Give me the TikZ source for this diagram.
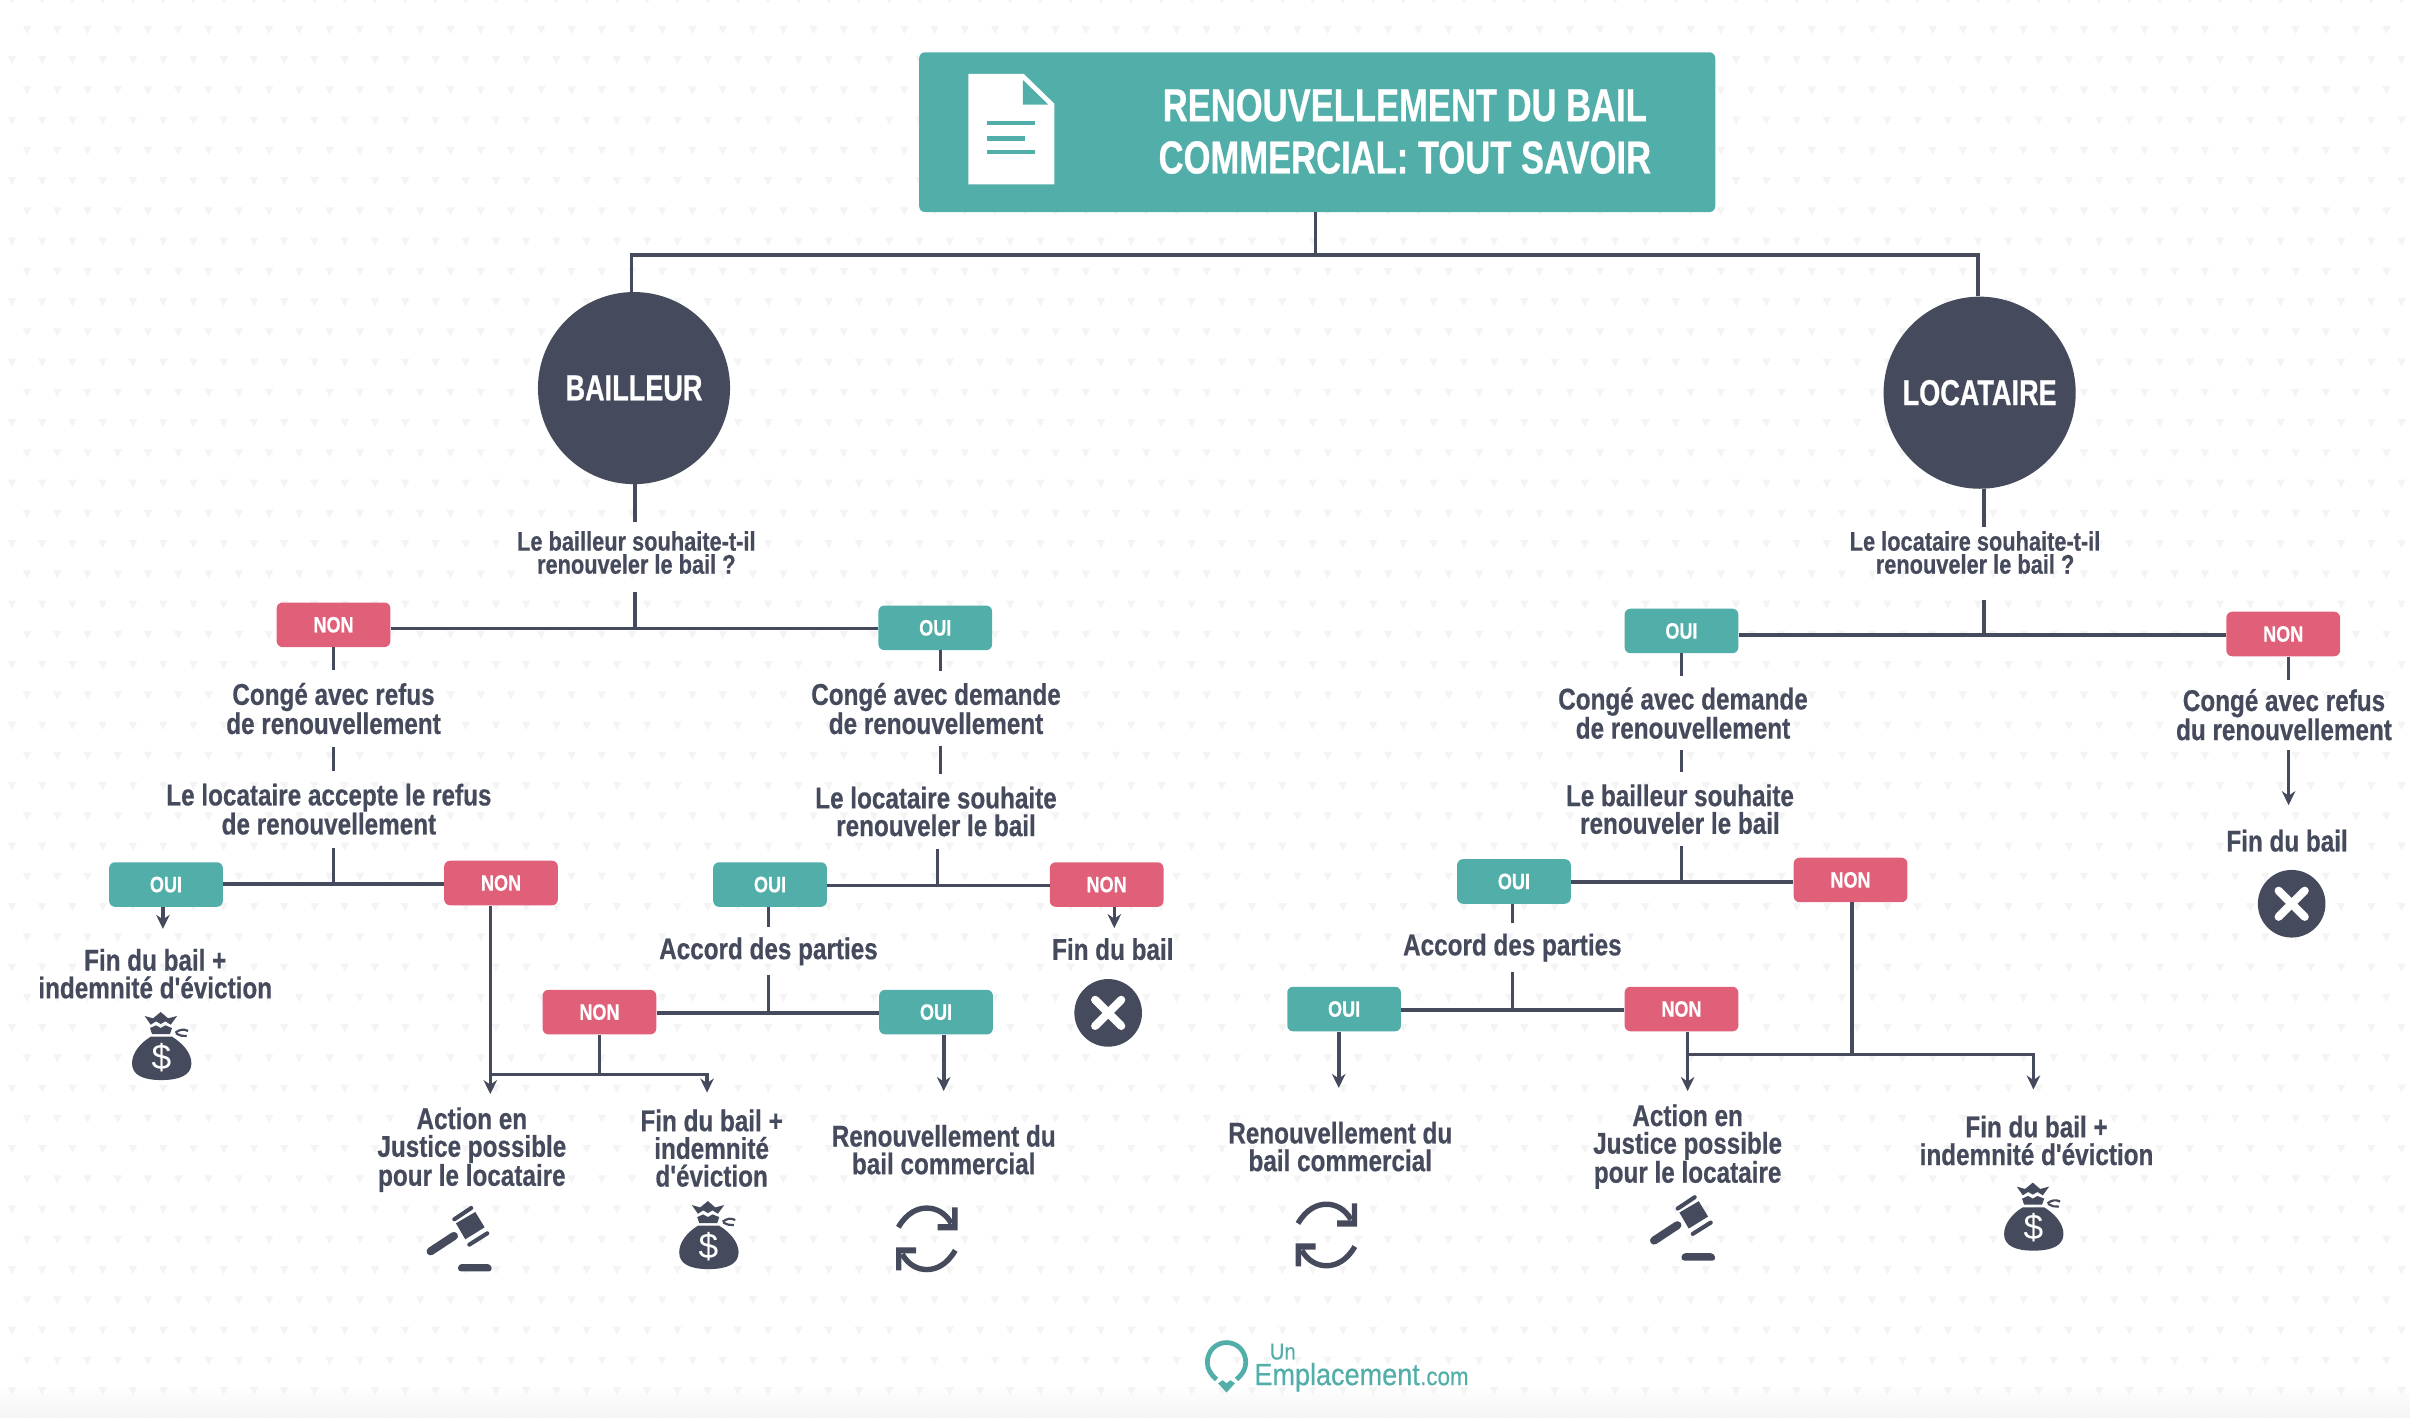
\documentclass[tikz,border=0pt]{standalone}
\usepackage{fontspec}
\setmainfont{Liberation Sans}
\newfontfamily\cond[FakeStretch=0.81,FakeBold=0.5]{Liberation Sans}
\newfontfamily\condt[FakeStretch=0.75,FakeBold=0.6]{Liberation Sans}
\newfontfamily\logofont[FakeStretch=0.88,FakeBold=0.5]{Liberation Sans}
\usetikzlibrary{arrows.meta}
\newdimen\pxu \pxu=1.4226pt
\definecolor{teal}{HTML}{52AEA9}
\definecolor{rose}{HTML}{E0607A}
\definecolor{ink}{HTML}{454A5C}
\definecolor{tri}{HTML}{F4F4F4}
\newcommand{\fsz}[2]{\fontsize{#1\pxu}{#2\pxu}\selectfont}
\tikzset{
 x=0.05cm,y=-0.05cm,
 link/.style={draw=ink,line width=3.3pt},
 arrowlink/.style={link,-{Stealth[length=13pt,width=12.5pt]}},
 tagbox/.style={rounded corners=5.5pt,minimum width=74\pxu,minimum height=29\pxu,inner sep=0pt,text=white,font=\cond\bfseries\fsz{14.5}{15}},
 oui/.style={tagbox,fill=teal},
 non/.style={tagbox,fill=rose},
 lab/.style={align=center,text=ink,inner sep=0pt,font=\cond\bfseries\fsz{19.5}{18}},
 ask/.style={align=center,text=ink,inner sep=0pt,font=\cond\bfseries\fsz{17.5}{15}},
 actor/.style={circle,fill=ink,minimum size=125\pxu,inner sep=0pt,text=white,font=\condt\bfseries\fsz{23.5}{24}},
 stopmark/.style={circle,fill=ink,minimum size=44\pxu,inner sep=0pt},
 money/.pic={
  \begin{scope}[scale=0.217,shift={(-150,-140)}]
   \fill[ink] (118,110) .. controls (85,130) and (62,160) .. (62,190) .. controls (62,225) and (95,240) .. (150,240) .. controls (205,240) and (240,225) .. (240,190) .. controls (240,160) and (215,130) .. (182,110) -- cycle;
   \fill[ink] (100,48) -- (125,55) -- (148,36) -- (170,55) -- (197,48) -- (178,74) -- (162,64) -- (148,72) -- (134,64) -- (118,74) -- cycle;
   \fill[ink] (116,84) -- (134,76) -- (148,84) -- (162,76) -- (182,84) -- (176,102) -- (122,102) -- cycle;
   \draw[ink,line width=2pt] (192,98) .. controls (205,88) and (218,86) .. (230,93);
   \draw[ink,line width=2pt] (194,100) .. controls (205,106) and (215,110) .. (226,108);
  \end{scope}
  \node[text=white,inner sep=0pt,font=\fsz{23}{24}] (-sign) at (0,7) {\$};
 },
 gavel/.pic={
  \begin{scope}[scale=0.217,shift={(-165,-135)}]
   \fill[ink] (138,100) -- (196,66) -- (224,112) -- (166,148) -- cycle;
   \draw[ink,line width=3.8pt,line cap=round] (133,88) -- (184,54);
   \draw[ink,line width=3.8pt,line cap=round] (178,164) -- (232,130);
   \draw[ink,line width=7.5pt,line cap=round] (62,184) -- (132,138);
   \fill[ink,rounded corners=3pt] (143,244) -- (146,222) -- (242,222) -- (247,244) -- cycle;
  \end{scope}
 },
 renew/.pic={
  \foreach \r in {0,180}{
   \begin{scope}[rotate=\r]
    \draw[ink,line width=5pt] (-18.5,-7.5) .. controls (-13,-17) and (-6,-20) .. (0,-20) .. controls (6,-20) and (12,-17) .. (16,-10);
    \fill[ink] (20,-20.5) -- (20,-5.5) -- (7,-5.5) -- (7,-9.5) -- (16.5,-9.5) -- (16.5,-20.5) -- cycle;
   \end{scope}
  }
 },
 cross/.style={draw=white,line width=7.5pt,line cap=round}
}
\begin{document}
\begin{tikzpicture}
\useasboundingbox (0,0) rectangle (1568,922);
\fill[white] (0,0) rectangle (1568,922);
\shade[top color=white,bottom color=black!4] (0,901) rectangle (1568,922);
\foreach \k in {0,2,...,46}{
 \fill[tri] \foreach \j in {0,...,79}{
  ({17.6+19.68*\j-2.7},{19.5+19.68*\k-2.6}) -- ++(5.4,0) -- ++(-2.7,5.2) -- cycle };
}
\foreach \k in {-1,1,...,45}{
 \fill[tri] \foreach \j in {0,...,79}{
  ({7.8+19.68*\j-2.7},{19.5+19.68*\k-2.6}) -- ++(5.4,0) -- ++(-2.7,5.2) -- cycle };
}

% title
\node[rounded corners=5.5pt,fill=teal,minimum width=518\pxu,minimum height=104\pxu,inner sep=0pt] (title) at (857,86) {};
\node[align=center,text=white,inner sep=0pt,font=\condt\bfseries\fsz{30}{34}] (titletext) at (914,85.5) {RENOUVELLEMENT DU BAIL\\COMMERCIAL: TOUT SAVOIR};
\fill[white] (630,48) -- (666,48) -- (686,67.5) -- (686,120) -- (630,120) -- cycle;
\fill[teal] (665.5,52) -- (665.5,68) -- (682,68) -- cycle;
\fill[teal] (642,78.5) rectangle (673.5,81.5);
\fill[teal] (642,88.5) rectangle (667,91.5);
\fill[teal] (642,97.5) rectangle (673.5,100.5);

% actors
\node[actor] (bailleur) at (412.5,252.5) {BAILLEUR};
\node[actor] (locataire) at (1288,255.5) {LOCATAIRE};
\coordinate (topj) at (856,166);
\coordinate (xL) at (411,0);
\coordinate (xR) at (1287,0);
\draw[link] (title.south -| topj) -- (topj);
\draw[link] (bailleur.north -| xL) -- (xL |- topj) -- (xR |- topj) -- (locataire.north -| xR);

% ---------- left: bailleur
\node[ask,minimum height=39\pxu] (q1) at (414,359.5) {Le bailleur souhaite-t-il\\renouveler le bail ?};
\node[non] (n1) at (217,406.5) {NON};
\node[oui] (o1) at (608.5,408.5) {OUI};
\coordinate (j1) at (413,409);
\draw[link] (bailleur.south -| j1) -- (q1.north -| j1);
\draw[link] ([yshift=-6\pxu]q1.south -| j1) -- (j1);
\draw[link] (n1.east |- j1) -- (o1.west |- j1);

\node[lab,minimum height=50\pxu] (t1) at (217,461) {Congé avec refus\\de renouvellement};
\node[lab,minimum height=50\pxu] (t2) at (214,526.5) {Le locataire accepte le refus\\de renouvellement};
\draw[link] (n1.south) -- (t1.north);
\draw[link] (t1.south) -- (t1.south |- t2.north);
\node[oui] (o2) at (108,575.5) {OUI};
\node[non] (n2) at (326,574.5) {NON};
\coordinate (j2) at (217,575);
\draw[link] (j2 |- t2.south) -- (j2);
\draw[link] (o2.east |- j2) -- (n2.west |- j2);
\coordinate (x106) at (106,0);
\node[lab,minimum height=58\pxu] (t3) at (101,633.5) {Fin du bail +\\indemnité d'éviction};
\draw[arrowlink] (o2.south -| x106) -- (t3.north -| x106);
\pic (bag1) at (105,681) {money};

\node[lab,minimum height=72\pxu] (t4) at (307,748) {Action en\\Justice possible\\pour le locataire};
\node[lab,minimum height=72\pxu] (t5) at (463,747) {Fin du bail +\\indemnité\\d'éviction};
\coordinate (x319) at (319,0);
\coordinate (j3) at (390,699);
\coordinate (x460) at (460,0);
\draw[arrowlink] (n2.south -| x319) -- (t4.north -| x319);
\draw[arrowlink] (x319 |- j3) -- (x460 |- j3) -- (t5.north -| x460);
\node[non] (n3) at (390,658.5) {NON};
\node[oui] (o4) at (609,658.5) {OUI};
\draw[link] (n3.south) -- (j3);
\coordinate (j4) at (500,659);
\draw[link] (n3.east |- j4) -- (o4.west |- j4);
\pic (gav1) at (302.5,803.5) {gavel};
\pic (bag2) at (461,804) {money};

\node[lab,minimum height=48\pxu] (t6) at (609,461) {Congé avec demande\\de renouvellement};
\node[lab,minimum height=48\pxu] (t7) at (609,528) {Le locataire souhaite\\renouveler le bail};
\coordinate (x612) at (612,0);
\draw[link] (o1.south -| x612) -- (t6.north -| x612);
\draw[link] (t6.south -| x612) -- (t7.north -| x612);
\node[oui] (o3) at (501,575.5) {OUI};
\node[non] (n4) at (720,575.5) {NON};
\coordinate (j5) at (610,576);
\draw[link] (t7.south -| j5) -- (j5);
\draw[link] (o3.east |- j5) -- (n4.west |- j5);
\node[lab,minimum height=31\pxu] (t8) at (500,619) {Accord des parties};
\draw[link] (o3.south -| j4) -- (t8.north -| j4);
\draw[link] (t8.south -| j4) -- (j4);
\node[lab,minimum height=27\pxu] (t9) at (724,617.5) {Fin du bail};
\coordinate (x725) at (725,0);
\draw[arrowlink] (n4.south -| x725) -- (t9.north -| x725);
\node[stopmark] (stop1) at (721,659) {};
\draw[cross] (712.5,650.5) -- (729.5,667.5);
\draw[cross] (729.5,650.5) -- (712.5,667.5);
\node[lab,minimum height=76\pxu] (t10) at (614,748) {Renouvellement du\\bail commercial};
\coordinate (x614) at (614,0);
\draw[arrowlink] (o4.south -| x614) -- (t10.north -| x614);
\pic (ren1) at (603,806) {renew};

% ---------- right: locataire
\node[ask,minimum height=33\pxu] (q2) at (1285,359.5) {Le locataire souhaite-t-il\\renouveler le bail ?};
\coordinate (j6) at (1291,413);
\node[oui] (o5) at (1094,410.5) {OUI};
\node[non] (n5) at (1485.5,412.5) {NON};
\draw[link] (locataire.south -| j6) -- (q2.north -| j6);
\draw[link] ([yshift=-14\pxu]q2.south -| j6) -- (j6);
\draw[link] (o5.east |- j6) -- (n5.west |- j6);

\node[lab,minimum height=48\pxu] (t11) at (1095,464) {Congé avec demande\\de renouvellement};
\node[lab,minimum height=48\pxu] (t12) at (1093,526.5) {Le bailleur souhaite\\renouveler le bail};
\coordinate (x1094) at (1094,0);
\draw[link] (o5.south -| x1094) -- (t11.north -| x1094);
\draw[link] (t11.south -| x1094) -- (t12.north -| x1094);
\node[oui] (o6) at (985,573.5) {OUI};
\node[non] (n6) at (1204,572.5) {NON};
\coordinate (j7) at (1094,574);
\draw[link] (t12.south -| j7) -- (j7);
\draw[link] (o6.east |- j7) -- (n6.west |- j7);
\node[lab,minimum height=32\pxu] (t13) at (984,616.5) {Accord des parties};
\coordinate (j8) at (984,657);
\draw[link] (o6.south -| j8) -- (t13.north -| j8);
\draw[link] (t13.south -| j8) -- (j8);
\node[oui] (o7) at (874.5,656.5) {OUI};
\node[non] (n7) at (1094,656.5) {NON};
\draw[link] (o7.east |- j8) -- (n7.west |- j8);
\node[lab,minimum height=76\pxu] (t14) at (872,746) {Renouvellement du\\bail commercial};
\coordinate (x871) at (871,0);
\draw[arrowlink] (o7.south -| x871) -- (t14.north -| x871);
\pic (ren2) at (863,803.5) {renew};
\node[lab,minimum height=72\pxu] (t15) at (1098,746) {Action en\\Justice possible\\pour le locataire};
\node[lab,minimum height=66\pxu] (t16) at (1325,742) {Fin du bail +\\indemnité d'éviction};
\coordinate (x1098) at (1098,0);
\coordinate (x1323) at (1323,0);
\coordinate (j9) at (1205,686);
\draw[arrowlink] (n7.south -| x1098) -- (t15.north -| x1098);
\draw[arrowlink] (x1098 |- j9) -- (x1323 |- j9) -- (t16.north -| x1323);
\draw[link] (n6.south -| j9) -- (j9);
\pic (gav2) at (1098.5,796.5) {gavel};
\pic (bag3) at (1323,792) {money};

\node[lab,minimum height=30\pxu] (t17) at (1486,465) {Congé avec refus\\du renouvellement};
\coordinate (x1489) at (1489,0);
\coordinate (afterT17) at (1489,488);
\node[lab,minimum height=46\pxu] (t18) at (1488,547) {Fin du bail};
\draw[link] (n5.south -| x1489) -- ++(0,15);
\draw[arrowlink] (afterT17) -- (t18.north -| x1489);
\node[stopmark] (stop2) at (1491,588) {};
\draw[cross] (1482.5,579.5) -- (1499.5,596.5);
\draw[cross] (1499.5,579.5) -- (1482.5,596.5);

% logo
\draw[teal,line width=4.4pt] (791.5,897.5) .. controls (788,894.5) and (785.5,891) .. (785.5,886.5) .. controls (785.5,879) and (791,873.5) .. (798,873.5) .. controls (805,873.5) and (810.5,879) .. (810.5,886.5) .. controls (810.5,891) and (808,894.5) .. (804.5,897.5);
\fill[teal] (792.5,900) -- (795.5,898) -- (798,900) -- (800.5,898) -- (803.5,900) -- (798,906) -- cycle;
\node[anchor=base west,inner sep=0pt,text=teal,font=\logofont\fsz{15}{15}] (logoA) at (826,884.5) {Un};
\node[anchor=base west,inner sep=0pt,text=teal,font=\logofont\fsz{20}{20}] (logoB) at (816,901.2) {Emplacement};
\node[anchor=base west,inner sep=0pt,text=teal,font=\logofont\fsz{16.5}{17}] (logoC) at (logoB.base east) {.com};
\end{tikzpicture}
\end{document}
